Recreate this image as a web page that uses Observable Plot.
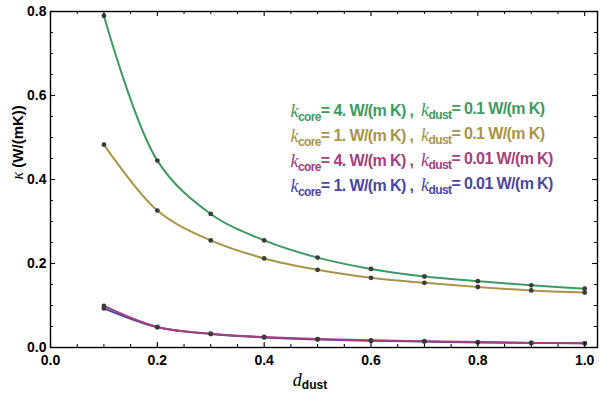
<!DOCTYPE html>
<html><head><meta charset="utf-8">
<script src="https://cdn.jsdelivr.net/npm/d3@7"></script>
<script src="https://cdn.jsdelivr.net/npm/@observablehq/plot@0.6"></script>
<style>body{margin:0;background:#fff} svg{display:block}</style>
</head><body><div id="chart"></div>
<script>
// ---- data ----
const dDust = [0.1, 0.2, 0.3, 0.4, 0.5, 0.6, 0.7, 0.8, 0.9, 1.0];
const kappaCore4Dust01  = [0.790, 0.445, 0.318, 0.255, 0.214, 0.187, 0.169, 0.158, 0.148, 0.140];
const kappaCore1Dust01  = [0.483, 0.326, 0.255, 0.212, 0.185, 0.166, 0.154, 0.144, 0.136, 0.131];
const kappaCore4Dust001 = [0.099, 0.049, 0.033, 0.025, 0.020, 0.017, 0.015, 0.013, 0.011, 0.010];
const kappaCore1Dust001 = [0.093, 0.048, 0.032, 0.024, 0.019, 0.016, 0.014, 0.012, 0.011, 0.010];
const seriesNames = ["core4dust01", "core1dust01", "core4dust001", "core1dust001"];
const seriesColors = ["#3d9b62", "#a8944a", "#a3407e", "#4a47a0"];
const legendCore = ["4.", "1.", "4.", "1."];
const legendDust = ["0.1", "0.1", "0.01", "0.01"];
const xTicks = [0.0, 0.2, 0.4, 0.6, 0.8, 1.0];
const yTicks = [0.0, 0.2, 0.4, 0.6, 0.8];
const xMinor = [0.05, 0.1, 0.15, 0.25, 0.3, 0.35, 0.45, 0.5, 0.55, 0.65, 0.7, 0.75, 0.85, 0.9, 0.95];
const yMinor = [0.05, 0.1, 0.15, 0.25, 0.3, 0.35, 0.45, 0.5, 0.55, 0.65, 0.7, 0.75];
const xLabel = "d dust";
const yLabel = "κ (W/(mK))";

// ---- table ----
const valuesBySeries = {
  core4dust01: kappaCore4Dust01, core1dust01: kappaCore1Dust01,
  core4dust001: kappaCore4Dust001, core1dust001: kappaCore1Dust001
};
const drawOrder = ["core1dust001", "core4dust001", "core1dust01", "core4dust01"];
const rows = drawOrder.flatMap(s => dDust.map((d, i) => ({series: s, d, k: valuesBySeries[s][i]})));
const legendStrings = seriesNames.map((s, i) => `k core = ${legendCore[i]} W/(m K) , k dust = ${legendDust[i]} W/(m K)`);

const W = 600, H = 398, mt = 11, mb = 51, ml = 50, mr = 3;
const ph = H - mt - mb, pw = W - ml - mr;
const maj = 5, mnr = 3;

const legendMarks = legendStrings.map((t, i) => Plot.text([t], {
  frameAnchor: "top-left", dx: 240, dy: 94 + i * 25, textAnchor: "start",
  fill: seriesColors[i], fontSize: 16
}));

const chart = Plot.plot({
  width: W, height: H,
  marginTop: mt, marginBottom: mb, marginLeft: ml, marginRight: mr,
  x: {domain: [0, 1.024]},
  y: {domain: [0, 0.8]},
  color: {domain: seriesNames, range: seriesColors},
  style: {fontFamily: "'Liberation Sans', Arial, sans-serif", fontSize: "14px", fontWeight: "bold", background: "#fff", color: "#000"},
  marks: [
    Plot.lineY(rows, {x: "d", y: "k", z: "series", stroke: "series", curve: "catmull-rom", strokeWidth: 2}),
    Plot.dot(rows, {x: "d", y: "k", r: 2.4, fill: "#3b3b3b"}),
    Plot.frame({stroke: "#000", strokeWidth: 1.4}),
    Plot.tickX(xTicks, {insetTop: ph - maj, stroke: "#000", strokeWidth: 1.1}),
    Plot.tickX(xTicks, {insetBottom: ph - maj, stroke: "#000", strokeWidth: 1.1}),
    Plot.tickX(xMinor, {insetTop: ph - mnr, stroke: "#000", strokeWidth: 1}),
    Plot.tickX(xMinor, {insetBottom: ph - mnr, stroke: "#000", strokeWidth: 1}),
    Plot.tickY(yTicks, {insetRight: pw - maj, stroke: "#000", strokeWidth: 1.1}),
    Plot.tickY(yTicks, {insetLeft: pw - maj, stroke: "#000", strokeWidth: 1.1}),
    Plot.tickY(yMinor, {insetRight: pw - mnr, stroke: "#000", strokeWidth: 1}),
    Plot.tickY(yMinor, {insetLeft: pw - mnr, stroke: "#000", strokeWidth: 1}),
    Plot.axisX({ticks: xTicks, tickSize: 0, tickPadding: 8, tickFormat: d3.format(".1f"), label: null}),
    Plot.axisY({ticks: yTicks, tickSize: 0, tickPadding: 4, tickFormat: d3.format(".1f"), label: null}),
    Plot.text([yLabel], {frameAnchor: "left", dx: -32, rotate: -90, fontSize: 15, fill: "#000"}),
    Plot.text([xLabel], {frameAnchor: "bottom", dx: -14, dy: 38, fontSize: 14, fill: "#000"}),
    ...legendMarks
  ]
});
document.getElementById("chart").appendChild(chart);

// ---- rich text (italic symbols and subscripts) ----
const svg = d3.select(chart);
function rich(textContent, parts, spacing) {
  svg.selectAll("text").filter(function() { return this.textContent === textContent; }).each(function() {
    const el = d3.select(this);
    el.text(null);
    if (spacing != null) el.attr("letter-spacing", spacing);
    let shifted = false;
    parts.forEach(p => {
      const ts = el.append("tspan").text(p.t);
      if (p.kind === "sym") {
        ts.attr("font-family", "'Liberation Serif', 'DejaVu Serif', serif").attr("font-style", "italic").attr("font-weight", "normal");
        if (p.size) ts.attr("font-size", p.size);
      }
      if (p.kind === "sub") {
        ts.attr("font-size", p.size || 11).attr("dy", "0.32em");
        shifted = true;
      } else if (shifted) {
        ts.attr("dy", "-0.32em"); shifted = false;
      }
    });
  });
}
seriesNames.forEach((s, i) => {
  rich(legendStrings[i], [
    {t: "k", kind: "sym", size: 18}, {t: "core", kind: "sub", size: 12},
    {t: `= ${legendCore[i]} W/(m K) ,  `},
    {t: "k", kind: "sym", size: 18}, {t: "dust", kind: "sub", size: 12},
    {t: `= ${legendDust[i]} W/(m K)`}
  ], -0.6);
});
rich(yLabel, [{t: "κ", kind: "sym", size: 16}, {t: " (W/(mK))"}]);
rich(xLabel, [{t: "d", kind: "sym", size: 18}, {t: "dust", kind: "sub", size: 12}]);
</script>
</body></html>
